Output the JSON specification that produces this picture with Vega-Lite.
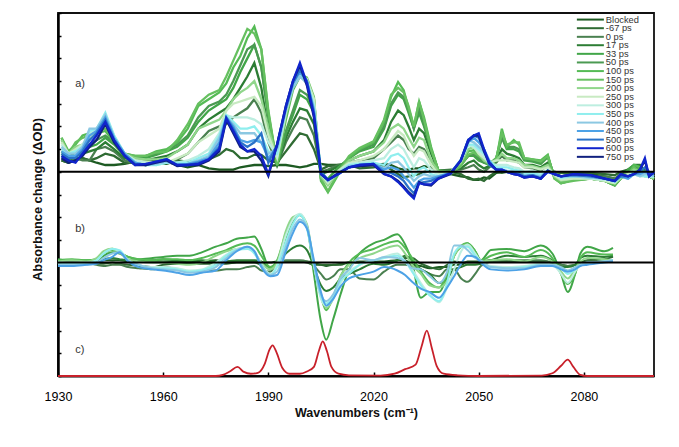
{
"$schema":"https://vega.github.io/schema/vega-lite/v6.json",
"width":596,"height":363,
"autosize":"none",
"padding":{"left":58,"top":13,"right":25,"bottom":71},
"background":"white",
"config":{"view":{"stroke":"#111","strokeWidth":1.8},"font":"Liberation Sans"},
"datasets":{
"a":[
{"w":1931,"B":9.5,"-67":9.5,"0":9.6,"17":9.7,"33":9.8,"50":9.9,"100":10.5,"150":10.5,"200":10.4,"250":10.3,"300":10.2,"350":10,"400":10.1,"450":9.9,"500":9.8,"600":9.7,"750":9.6},
{"w":1933,"B":9.4,"-67":9.4,"0":9.5,"17":9.5,"33":9.5,"50":9.6,"100":9.9,"150":9.8,"200":9.8,"250":9.8,"300":9.8,"350":9.8,"400":9.8,"450":9.7,"500":9.6,"600":9.5,"750":9.4},
{"w":1935,"B":9.6,"-67":9.5,"0":9.6,"17":9.7,"33":9.9,"50":10,"100":10.2,"150":10.3,"200":10.1,"250":10,"300":9.9,"350":9.9,"400":9.8,"450":9.7,"500":9.6,"600":9.4,"750":9.5},
{"w":1937,"B":9.6,"-67":9.6,"0":9.5,"17":9.8,"33":10,"50":10.1,"100":10.6,"150":10.5,"200":10.2,"250":10.2,"300":10.2,"350":10.1,"400":10.1,"450":10,"500":9.9,"600":9.8,"750":9.7},
{"w":1939,"B":9.5,"-67":9.5,"0":9.5,"17":9.9,"33":10.1,"50":10.2,"100":10.7,"150":10.6,"200":10.4,"250":10.5,"300":10.7,"350":10.8,"400":10.9,"450":10.6,"500":10.4,"600":10.2,"750":10.1},
{"w":1941,"B":9.4,"-67":9.6,"0":10,"17":10,"33":10.2,"50":10.4,"100":10.7,"150":10.8,"200":10.9,"250":10.9,"300":10.9,"350":10.9,"400":10.9,"450":10.8,"500":10.7,"600":10.6,"750":10.4},
{"w":1943.5,"B":9.3,"-67":9.8,"0":10.1,"17":10.3,"33":10.5,"50":10.6,"100":10.8,"150":10.9,"200":11.1,"250":11.2,"300":11.5,"350":11.6,"400":11.5,"450":11.4,"500":11.3,"600":11.2,"750":11.1},
{"w":1946,"B":9.3,"-67":9.7,"0":9.9,"17":10,"33":10.2,"50":10.3,"100":10.3,"150":10.4,"200":10.4,"250":10.5,"300":10.6,"350":10.6,"400":10.5,"450":10.5,"500":10.4,"600":10.4,"750":10.3},
{"w":1949,"B":9.35,"-67":9.4,"0":9.5,"17":9.6,"33":9.7,"50":9.8,"100":9.8,"150":9.8,"200":9.8,"250":9.8,"300":9.8,"350":9.8,"400":9.8,"450":9.8,"500":9.75,"600":9.7,"750":9.7},
{"w":1952,"B":9.45,"-67":9.4,"0":9.35,"17":9.5,"33":9.6,"50":9.65,"100":9.7,"150":9.7,"200":9.6,"250":9.5,"300":9.5,"350":9.4,"400":9.4,"450":9.4,"500":9.35,"600":9.3,"750":9.3},
{"w":1955,"B":9.4,"-67":9.3,"0":9.3,"17":9.5,"33":9.6,"50":9.7,"100":9.7,"150":9.7,"200":9.55,"250":9.45,"300":9.4,"350":9.3,"400":9.3,"450":9.3,"500":9.3,"600":9.35,"750":9.3},
{"w":1958,"B":9.5,"-67":9.35,"0":9.35,"17":9.6,"33":9.75,"50":9.8,"100":9.9,"150":9.85,"200":9.55,"250":9.4,"300":9.3,"350":9.3,"400":9.35,"450":9.4,"500":9.45,"600":9.45,"750":9.4},
{"w":1961,"B":9.45,"-67":9.35,"0":9.4,"17":9.7,"33":9.9,"50":9.95,"100":10,"150":9.9,"200":9.6,"250":9.4,"300":9.4,"350":9.4,"400":9.45,"450":9.5,"500":9.55,"600":9.55,"750":9.5},
{"w":1964,"B":9.3,"-67":9.5,"0":9.55,"17":9.9,"33":10.1,"50":10.2,"100":10.3,"150":10.4,"200":9.9,"250":9.6,"300":9.4,"350":9.4,"400":9.3,"450":9.3,"500":9.3,"600":9.3,"750":9.25},
{"w":1967,"B":9.2,"-67":9.45,"0":9.8,"17":10.2,"33":10.5,"50":10.6,"100":10.9,"150":11.1,"200":10.2,"250":9.8,"300":9.5,"350":9.4,"400":9.35,"450":9.35,"500":9.3,"600":9.3,"750":9.3},
{"w":1970,"B":9.3,"-67":9.45,"0":10.3,"17":10.9,"33":11.2,"50":11.4,"100":11.9,"150":12,"200":10.9,"250":10.3,"300":9.7,"350":9.6,"400":9.5,"450":9.45,"500":9.4,"600":9.35,"750":9.3},
{"w":1973,"B":9.15,"-67":9.55,"0":10.8,"17":11.3,"33":11.7,"50":11.9,"100":12.2,"150":12.4,"200":11.1,"250":10.6,"300":10,"350":9.8,"400":9.7,"450":9.6,"500":9.55,"600":9.55,"750":9.5},
{"w":1976,"B":9.1,"-67":9.75,"0":11,"17":11.6,"33":12,"50":12.1,"100":12.5,"150":12.6,"200":11.3,"250":10.9,"300":10.7,"350":10.6,"400":10.5,"450":10.3,"500":10.1,"600":10,"750":9.9},
{"w":1978,"B":9.1,"-67":10,"0":11.1,"17":11.8,"33":12.2,"50":12.4,"100":12.9,"150":13.2,"200":11.7,"250":11.7,"300":11.5,"350":11.5,"400":11.4,"450":11.4,"500":11.4,"600":11.35,"750":11.3},
{"w":1980,"B":9.1,"-67":9.9,"0":11.4,"17":12.2,"33":12.7,"50":13,"100":13.6,"150":13.9,"200":12.2,"250":12,"300":11.4,"350":11.2,"400":11.1,"450":11,"500":10.9,"600":10.8,"750":10.7},
{"w":1982,"B":9.2,"-67":9.6,"0":11.6,"17":12.7,"33":13.4,"50":13.7,"100":14.1,"150":14.6,"200":12.5,"250":12.1,"300":11.4,"350":10.9,"400":10.7,"450":10.4,"500":10.3,"600":10.2,"750":10.1},
{"w":1984,"B":9.25,"-67":9.6,"0":11.8,"17":13.2,"33":14,"50":14.4,"100":14.9,"150":15.3,"200":12.7,"250":12.2,"300":11.4,"350":10.9,"400":10.7,"450":10.3,"500":10.1,"600":9.9,"750":9.9},
{"w":1986,"B":9.3,"-67":9.75,"0":12.2,"17":13.8,"33":14.6,"50":14.6,"100":15.4,"150":15.1,"200":13,"250":12.3,"300":11.3,"350":11,"400":10.7,"450":10.4,"500":10.3,"600":10,"750":9.9},
{"w":1988,"B":9.3,"-67":9.75,"0":11.6,"17":12.7,"33":13.6,"50":13.6,"100":14.4,"150":14.4,"200":12.2,"250":11.9,"300":11.1,"350":10.6,"400":10.3,"450":10.3,"500":10.7,"600":9.7,"750":9.5},
{"w":1990,"B":9.25,"-67":9.5,"0":10.3,"17":10.8,"33":11.4,"50":11.5,"100":11.6,"150":11.7,"200":10.9,"250":10.6,"300":10.3,"350":9.9,"400":9.8,"450":9.6,"500":9.4,"600":8.9,"750":8.82},
{"w":1992.5,"B":9.3,"-67":9.4,"0":9.3,"17":9.3,"33":9.3,"50":9.3,"100":9.3,"150":9.3,"200":9.6,"250":9.6,"300":9.7,"350":9.8,"400":10,"450":10.1,"500":10.2,"600":10.2,"750":10.2},
{"w":1995,"B":9.3,"-67":9.9,"0":10.3,"17":10.5,"33":10.7,"50":10.8,"100":11.3,"150":11.6,"200":11.5,"250":11.6,"300":11.7,"350":11.8,"400":11.7,"450":11.8,"500":11.8,"600":11.9,"750":11.9},
{"w":1997,"B":9.25,"-67":10.3,"0":10.9,"17":11.2,"33":11.5,"50":11.7,"100":12.6,"150":12.9,"200":12.7,"250":12.8,"300":12.8,"350":12.9,"400":12.7,"450":12.9,"500":12.9,"600":13,"750":13},
{"w":1999,"B":9.2,"-67":10.7,"0":11.4,"17":11.8,"33":12.4,"50":12.6,"100":13.2,"150":13.3,"200":13.2,"250":13.2,"300":13.2,"350":13.3,"400":13.2,"450":13.4,"500":13.5,"600":13.8,"750":13.7},
{"w":2001,"B":9.25,"-67":10.6,"0":11.3,"17":11.7,"33":12.2,"50":12.4,"100":13,"150":13.15,"200":13,"250":13.1,"300":13,"350":13,"400":12.9,"450":13,"500":13,"600":12.9,"750":12.8},
{"w":2003,"B":9.35,"-67":10,"0":10.6,"17":11.1,"33":11.6,"50":11.8,"100":12.2,"150":12.3,"200":12.2,"250":12.2,"300":12,"350":11.9,"400":11.8,"450":11.7,"500":11.6,"600":11.5,"750":11.4},
{"w":2005,"B":9.35,"-67":9.1,"0":9,"17":8.9,"33":8.8,"50":8.7,"100":8.6,"150":8.7,"200":8.8,"250":8.9,"300":8.9,"350":8.9,"400":9,"450":9,"500":9,"600":8.9,"750":8.9},
{"w":2007,"B":9.3,"-67":9.25,"0":9.1,"17":9,"33":8.7,"50":8.5,"100":8.1,"150":8.15,"200":8.4,"250":8.5,"300":8.6,"350":8.6,"400":8.6,"450":8.65,"500":8.65,"600":8.64,"750":8.64},
{"w":2010,"B":9.3,"-67":9.3,"0":9.3,"17":9.25,"33":9.2,"50":9.1,"100":8.9,"150":9,"200":9,"250":9.05,"300":9,"350":8.95,"400":8.95,"450":8.9,"500":8.9,"600":8.9,"750":8.95},
{"w":2013,"B":9.3,"-67":9.3,"0":9.4,"17":9.5,"33":9.6,"50":9.6,"100":9.6,"150":9.7,"200":9.5,"250":9.4,"300":9.35,"350":9.3,"400":9.25,"450":9.2,"500":9.2,"600":9.2,"750":9.2},
{"w":2016,"B":9.25,"-67":9.15,"0":9.5,"17":9.7,"33":9.9,"50":9.95,"100":10,"150":10.05,"200":9.7,"250":9.5,"300":9.4,"350":9.35,"400":9.3,"450":9.3,"500":9.3,"600":9.3,"750":9.25},
{"w":2020,"B":9.3,"-67":9.2,"0":9.6,"17":9.9,"33":10.1,"50":10.2,"100":10.3,"150":10.35,"200":9.9,"250":9.7,"300":9.5,"350":9.4,"400":9.35,"450":9.35,"500":9.35,"600":9.35,"750":9.3},
{"w":2023,"B":9.35,"-67":9.3,"0":10,"17":10.4,"33":10.9,"50":11,"100":11.2,"150":11.3,"200":10.3,"250":10,"300":9.6,"350":9.3,"400":9.15,"450":9.1,"500":9,"600":8.9,"750":8.9},
{"w":2025,"B":9.3,"-67":9.1,"0":10.3,"17":11.2,"33":11.9,"50":12,"100":12.3,"150":12.4,"200":10.9,"250":10.4,"300":10,"350":9.7,"400":9.4,"450":9.2,"500":8.95,"600":8.8,"750":8.8},
{"w":2027,"B":9.15,"-67":8.9,"0":10.6,"17":11.7,"33":12.4,"50":12.5,"100":12.96,"150":12.7,"200":11.1,"250":10.8,"300":10.2,"350":9.8,"400":9.45,"450":9.1,"500":8.8,"600":8.55,"750":8.6},
{"w":2028.6,"B":9.1,"-67":8.75,"0":10.4,"17":11.5,"33":12.2,"50":12.3,"100":12.6,"150":12.5,"200":10.9,"250":10.6,"300":10,"350":9.6,"400":9.2,"450":8.8,"500":8.6,"600":8.3,"750":8.35},
{"w":2030,"B":9.1,"-67":8.8,"0":10,"17":11,"33":11.6,"50":11.7,"100":11.8,"150":11.9,"200":10.5,"250":10.1,"300":9.6,"350":9.2,"400":8.9,"450":8.6,"500":8.3,"600":8.05,"750":8.1},
{"w":2031.5,"B":9.15,"-67":8.85,"0":9.8,"17":10.4,"33":10.9,"50":10.9,"100":11,"150":11,"200":10.1,"250":9.7,"300":9.2,"350":8.8,"400":8.6,"450":8.3,"500":8.05,"600":7.83,"750":7.9},
{"w":2033,"B":9.15,"-67":8.9,"0":10.1,"17":10.9,"33":11.6,"50":11.8,"100":12.1,"150":12.1,"200":10.5,"250":10,"300":9.6,"350":9.1,"400":8.8,"450":8.6,"500":8.5,"600":8.5,"750":8.55},
{"w":2034.4,"B":9.25,"-67":9,"0":10,"17":10.7,"33":11,"50":11.1,"100":11.4,"150":11.3,"200":10.4,"250":9.9,"300":9.5,"350":9.2,"400":8.9,"450":8.7,"500":8.55,"600":8.45,"750":8.45},
{"w":2036.4,"B":9.2,"-67":9.05,"0":9.5,"17":9.8,"33":10,"50":10,"100":10.1,"150":10,"200":9.5,"250":9.3,"300":9.1,"350":8.9,"400":8.8,"450":8.7,"500":8.6,"600":8.45,"750":8.4},
{"w":2038.5,"B":9.05,"-67":9,"0":9.05,"17":9.05,"33":9.05,"50":9.05,"100":9.05,"150":9.05,"200":9,"250":8.9,"300":8.85,"350":8.8,"400":8.8,"450":8.8,"500":8.75,"600":8.7,"750":8.7},
{"w":2042,"B":8.9,"-67":9,"0":9.1,"17":9.05,"33":9,"50":9,"100":8.95,"150":8.95,"200":9,"250":8.95,"300":8.95,"350":8.9,"400":8.95,"450":8.95,"500":8.95,"600":8.95,"750":8.9},
{"w":2044.9,"B":8.8,"-67":8.9,"0":9.1,"17":9.15,"33":9.3,"50":9.3,"100":9.3,"150":9.25,"200":9.4,"250":9.5,"300":9.5,"350":9.5,"400":9.55,"450":9.5,"500":9.5,"600":9.5,"750":9.5},
{"w":2047,"B":8.75,"-67":8.7,"0":9.2,"17":9.4,"33":9.7,"50":9.7,"100":9.9,"150":9.75,"200":10,"250":10.2,"300":10.2,"350":10.2,"400":10.4,"450":10.3,"500":10.4,"600":10.4,"750":10.35},
{"w":2048.6,"B":8.65,"-67":8.65,"0":9.3,"17":9.5,"33":9.7,"50":9.8,"100":9.95,"150":9.85,"200":10.1,"250":10.1,"300":10.1,"350":10.2,"400":10.3,"450":10.5,"500":10.6,"600":10.6,"750":10.6},
{"w":2050,"B":8.65,"-67":8.7,"0":9.1,"17":9.3,"33":9.5,"50":9.6,"100":9.75,"150":9.7,"200":9.8,"250":9.8,"300":9.9,"350":10,"400":10.1,"450":10.3,"500":10.5,"600":10.7,"750":10.6},
{"w":2051.5,"B":8.75,"-67":8.6,"0":9,"17":9.15,"33":9.4,"50":9.4,"100":9.6,"150":9.5,"200":9.5,"250":9.6,"300":9.7,"350":9.8,"400":9.9,"450":10,"500":10,"600":10,"750":9.9},
{"w":2053,"B":8.7,"-67":8.8,"0":9.2,"17":9.25,"33":9.3,"50":9.35,"100":9.3,"150":9.3,"200":9.4,"250":9.4,"300":9.4,"350":9.5,"400":9.4,"450":9.5,"500":9.3,"600":9.4,"750":9.4},
{"w":2055,"B":8.95,"-67":9,"0":9.4,"17":9.5,"33":9.6,"50":9.6,"100":9.5,"150":9.6,"200":9.5,"250":9.5,"300":9.3,"350":9.2,"400":9.1,"450":9.05,"500":9.1,"600":9.1,"750":9.1},
{"w":2056.6,"B":9,"-67":8.95,"0":9.7,"17":10,"33":10.5,"50":10.5,"100":10.9,"150":10.7,"200":9.8,"250":9.5,"300":9.3,"350":9.2,"400":9.1,"450":9.1,"500":9.1,"600":9.1,"750":9.05},
{"w":2058,"B":9,"-67":9,"0":9.5,"17":9.8,"33":10,"50":10.1,"100":10.1,"150":10.2,"200":9.6,"250":9.5,"300":9.3,"350":9.2,"400":9.05,"450":9,"500":9,"600":9,"750":9},
{"w":2060,"B":9,"-67":9,"0":9.5,"17":9.7,"33":10,"50":10.1,"100":10.4,"150":10.3,"200":9.6,"250":9.45,"300":9.2,"350":9.1,"400":9,"450":8.95,"500":8.95,"600":8.9,"750":8.9},
{"w":2061.5,"B":9,"-67":8.95,"0":9.4,"17":9.6,"33":9.9,"50":10,"100":10.2,"150":10.3,"200":9.5,"250":9.4,"300":9.15,"350":9.05,"400":8.9,"450":8.9,"500":8.9,"600":8.85,"750":8.85},
{"w":2063,"B":8.95,"-67":8.9,"0":9.2,"17":9.3,"33":9.5,"50":9.55,"100":9.6,"150":9.6,"200":9.3,"250":9.2,"300":9,"350":8.95,"400":8.85,"450":8.8,"500":8.8,"600":8.75,"750":8.75},
{"w":2065.4,"B":9,"-67":8.95,"0":9.15,"17":9.3,"33":9.45,"50":9.5,"100":9.55,"150":9.55,"200":9.25,"250":9.2,"300":9.05,"350":8.95,"400":8.85,"450":8.85,"500":8.85,"600":8.8,"750":8.8},
{"w":2067.7,"B":8.9,"-67":8.9,"0":9.05,"17":9.2,"33":9.35,"50":9.4,"100":9.5,"150":9.45,"200":9.15,"250":9.1,"300":8.9,"350":8.85,"400":8.8,"450":8.75,"500":8.7,"600":8.7,"750":8.7},
{"w":2069.7,"B":9,"-67":9.05,"0":9.3,"17":9.4,"33":9.65,"50":9.7,"100":9.75,"150":9.7,"200":9.3,"250":9.2,"300":9.1,"350":9.05,"400":9.05,"450":9,"500":9.05,"600":9,"750":9.05},
{"w":2071.6,"B":9,"-67":9,"0":8.95,"17":8.9,"33":8.8,"50":8.75,"100":8.7,"150":8.7,"200":8.8,"250":8.85,"300":8.9,"350":8.9,"400":8.9,"450":8.9,"500":8.9,"600":8.9,"750":8.9},
{"w":2073.5,"B":8.95,"-67":8.95,"0":8.8,"17":8.7,"33":8.55,"50":8.5,"100":8.5,"150":8.5,"200":8.6,"250":8.65,"300":8.7,"350":8.75,"400":8.8,"450":8.8,"500":8.8,"600":8.8,"750":8.8},
{"w":2077,"B":8.9,"-67":8.95,"0":8.8,"17":8.7,"33":8.65,"50":8.65,"100":8.65,"150":8.6,"200":8.7,"250":8.7,"300":8.8,"350":8.8,"400":8.8,"450":8.85,"500":8.85,"600":8.9,"750":8.9},
{"w":2082,"B":8.9,"-67":8.95,"0":8.8,"17":8.75,"33":8.7,"50":8.7,"100":8.7,"150":8.7,"200":8.7,"250":8.7,"300":8.7,"350":8.75,"400":8.75,"450":8.8,"500":8.8,"600":8.85,"750":8.85},
{"w":2086,"B":8.8,"-67":8.9,"0":8.8,"17":8.7,"33":8.6,"50":8.6,"100":8.6,"150":8.6,"200":8.6,"250":8.6,"300":8.65,"350":8.7,"400":8.7,"450":8.7,"500":8.7,"600":8.7,"750":8.7},
{"w":2088.8,"B":8.7,"-67":8.85,"0":8.7,"17":8.55,"33":8.4,"50":8.4,"100":8.4,"150":8.45,"200":8.5,"250":8.5,"300":8.55,"350":8.55,"400":8.6,"450":8.6,"500":8.6,"600":8.6,"750":8.6},
{"w":2090.5,"B":8.8,"-67":9,"0":8.9,"17":8.8,"33":8.7,"50":8.7,"100":8.75,"150":8.7,"200":8.7,"250":8.8,"300":8.8,"350":8.8,"400":8.8,"450":8.8,"500":8.8,"600":8.9,"750":8.9},
{"w":2092.6,"B":8.9,"-67":9.1,"0":9,"17":9.1,"33":9.1,"50":9,"100":8.8,"150":8.9,"200":8.9,"250":8.9,"300":8.7,"350":8.8,"400":8.8,"450":8.7,"500":8.8,"600":8.8,"750":8.8},
{"w":2094.3,"B":9,"-67":9.2,"0":9.2,"17":9.3,"33":9.3,"50":9.2,"100":9.3,"150":9.2,"200":9.1,"250":9,"300":8.9,"350":9,"400":8.9,"450":8.9,"500":8.9,"600":8.9,"750":8.9},
{"w":2096,"B":8.9,"-67":9.1,"0":9.2,"17":9.3,"33":9.2,"50":9.1,"100":9.2,"150":9,"200":9,"250":8.9,"300":8.8,"350":8.9,"400":8.8,"450":8.9,"500":9,"600":9.1,"750":9.1},
{"w":2097.4,"B":8.9,"-67":9,"0":9.1,"17":9,"33":8.9,"50":8.9,"100":8.9,"150":8.9,"200":8.8,"250":8.9,"300":8.8,"350":8.8,"400":8.9,"450":9,"500":9.2,"600":9.6,"750":9.5},
{"w":2098.6,"B":8.8,"-67":8.9,"0":8.9,"17":8.8,"33":8.8,"50":8.8,"100":8.8,"150":8.8,"200":8.8,"250":8.8,"300":8.8,"350":8.8,"400":8.9,"450":8.9,"500":9,"600":8.8,"750":8.8},
{"w":2100,"B":8.7,"-67":8.8,"0":8.8,"17":8.7,"33":8.7,"50":8.7,"100":8.7,"150":8.7,"200":8.7,"250":8.8,"300":8.8,"350":8.8,"400":8.8,"450":8.9,"500":8.9,"600":9,"750":9}
],
"b":[
{"w":1930,"B":4.95,"-67":5.05,"0":5,"17":5.05,"33":5.15,"100":5.1,"200":5.05,"300":5,"350":5,"400":4.9,"450":4.85},
{"w":1934,"B":5.1,"-67":5.05,"0":5,"17":5.1,"33":5.1,"100":5.15,"200":5.1,"300":5,"350":4.95,"400":4.9,"450":4.85},
{"w":1938,"B":5.05,"-67":5,"0":5,"17":5.05,"33":5.1,"100":5.1,"200":5.05,"300":5,"350":4.95,"400":4.9,"450":4.9},
{"w":1941,"B":5,"-67":4.95,"0":4.9,"17":5.1,"33":5.1,"100":5.15,"200":5.2,"300":5.1,"350":5.1,"400":5,"450":4.95},
{"w":1943,"B":5.1,"-67":4.95,"0":4.85,"17":5.15,"33":5.3,"100":5.4,"200":5.5,"300":5.4,"350":5.4,"400":5.2,"450":5.1},
{"w":1945.5,"B":5.1,"-67":5,"0":4.9,"17":5.2,"33":5.45,"100":5.55,"200":5.62,"300":5.6,"350":5.6,"400":5.4,"450":5.25},
{"w":1947.5,"B":5.1,"-67":4.95,"0":4.9,"17":5.15,"33":5.4,"100":5.45,"200":5.45,"300":5.5,"350":5.55,"400":5.45,"450":5.45},
{"w":1950,"B":5.05,"-67":4.9,"0":4.8,"17":5.1,"33":5.25,"100":5.25,"200":5.15,"300":5.1,"350":5.1,"400":5.1,"450":5.05},
{"w":1953,"B":5.05,"-67":4.85,"0":4.75,"17":5.1,"33":5.15,"100":5.15,"200":5.05,"300":4.9,"350":4.9,"400":4.9,"450":4.8},
{"w":1957,"B":5.05,"-67":4.8,"0":4.7,"17":5.1,"33":5.2,"100":5.1,"200":5,"300":4.8,"350":4.75,"400":4.75,"450":4.7},
{"w":1960,"B":5.05,"-67":4.9,"0":4.8,"17":5.15,"33":5.25,"100":5.15,"200":5,"300":4.8,"350":4.75,"400":4.7,"450":4.65},
{"w":1964,"B":5.05,"-67":4.95,"0":4.7,"17":5.1,"33":5.3,"100":5.15,"200":4.95,"300":4.75,"350":4.7,"400":4.65,"450":4.55},
{"w":1967.5,"B":5.05,"-67":4.95,"0":4.6,"17":5.1,"33":5.3,"100":5.1,"200":4.9,"300":4.65,"350":4.6,"400":4.55,"450":4.45},
{"w":1971,"B":5.05,"-67":4.95,"0":4.65,"17":5.1,"33":5.45,"100":5.2,"200":5,"300":4.7,"350":4.65,"400":4.6,"450":4.55},
{"w":1975,"B":5.1,"-67":4.95,"0":4.65,"17":5.05,"33":5.7,"100":5.4,"200":5.3,"300":5,"350":4.9,"400":4.8,"450":4.65},
{"w":1978,"B":5.05,"-67":4.95,"0":4.7,"17":5.05,"33":5.85,"100":5.55,"200":5.5,"300":5.35,"350":5.3,"400":5.2,"450":5.1},
{"w":1981,"B":5.05,"-67":5,"0":4.7,"17":5.1,"33":6.05,"100":5.75,"200":5.6,"300":5.6,"350":5.55,"400":5.55,"450":5.5},
{"w":1984,"B":5.05,"-67":5,"0":4.8,"17":5.1,"33":6.1,"100":5.85,"200":5.65,"300":5.65,"350":5.6,"400":5.7,"450":5.7},
{"w":1986,"B":5.05,"-67":5,"0":4.85,"17":5.1,"33":6.15,"100":5.75,"200":5.45,"300":5.45,"350":5.4,"400":5.5,"450":5.5},
{"w":1988,"B":5,"-67":4.9,"0":4.65,"17":5.05,"33":5.6,"100":5.3,"200":5,"300":4.95,"350":4.9,"400":4.9,"450":4.8},
{"w":1990.5,"B":5,"-67":4.8,"0":4.6,"17":4.7,"33":4.7,"100":4.8,"200":4.7,"300":4.5,"350":4.45,"400":4.45,"450":4.4},
{"w":1992.5,"B":5.05,"-67":4.95,"0":4.85,"17":5,"33":5.05,"100":5.1,"200":5,"300":4.9,"350":4.8,"400":4.6,"450":4.45},
{"w":1995,"B":5.05,"-67":5.05,"0":5.1,"17":5.4,"33":6.1,"100":6.3,"200":6.4,"300":6.2,"350":5.9,"400":5.7,"450":5.5},
{"w":1997,"B":5.05,"-67":5.05,"0":5.1,"17":5.65,"33":6.8,"100":6.9,"200":7,"300":6.9,"350":6.7,"400":6.5,"450":6.3},
{"w":1999,"B":5.05,"-67":5.05,"0":5.1,"17":5.75,"33":7.1,"100":7.1,"200":7.1,"300":7.15,"350":7.1,"400":6.9,"450":6.8},
{"w":2001,"B":5,"-67":5.05,"0":5.05,"17":5.55,"33":6.6,"100":6.6,"200":6.7,"300":6.6,"350":6.5,"400":6.6,"450":6.5},
{"w":2003,"B":4.9,"-67":5,"0":4.85,"17":4.8,"33":4.5,"100":4.8,"200":4.9,"300":4.9,"350":4.9,"400":4.9,"450":5.1},
{"w":2005,"B":4.9,"-67":4.9,"0":4.5,"17":4,"33":2.4,"100":3.5,"200":3.5,"300":3.4,"350":3.5,"400":3.6,"450":3.7},
{"w":2006.5,"B":4.85,"-67":4.9,"0":4.25,"17":3.75,"33":1.6,"100":2.9,"200":3,"300":3.1,"350":3.2,"400":3.3,"450":3.1},
{"w":2008.5,"B":4.9,"-67":4.9,"0":4.4,"17":3.9,"33":2.5,"100":3.5,"200":3.4,"300":3.4,"350":3.5,"400":3.6,"450":3.4},
{"w":2010.6,"B":4.9,"-67":4.95,"0":4.7,"17":4.3,"33":3.6,"100":4.4,"200":4.4,"300":4.1,"350":4.2,"400":4.3,"450":3.95},
{"w":2013,"B":5,"-67":5,"0":4.7,"17":4.5,"33":4.7,"100":5,"200":4.9,"300":4.6,"350":4.5,"400":4.7,"450":4.3},
{"w":2016,"B":5,"-67":5.05,"0":4.3,"17":4.7,"33":5.4,"100":5.4,"200":5.2,"300":4.9,"350":4.9,"400":5.2,"450":4.45},
{"w":2020,"B":5.05,"-67":5.05,"0":4.25,"17":4.95,"33":5.85,"100":5.6,"200":5.4,"300":5.1,"350":5.1,"400":5.1,"450":4.6},
{"w":2023,"B":5.05,"-67":5,"0":4.6,"17":4.9,"33":6,"100":5.8,"200":5.6,"300":5.25,"350":5.2,"400":5.25,"450":4.8},
{"w":2026.8,"B":5.1,"-67":5.1,"0":4.9,"17":5.1,"33":6.25,"100":5.95,"200":5.75,"300":5.4,"350":5.3,"400":5.2,"450":4.65},
{"w":2029,"B":5.1,"-67":5.2,"0":4.9,"17":5.3,"33":5.8,"100":5.65,"200":5.4,"300":5.05,"350":5.05,"400":5.05,"450":4.45},
{"w":2031,"B":4.9,"-67":5.2,"0":4.85,"17":5.1,"33":5,"100":5.2,"200":4.9,"300":4.7,"350":4.6,"400":4.75,"450":4.15},
{"w":2033.5,"B":4.85,"-67":4.95,"0":4.7,"17":4.7,"33":3.45,"100":4.6,"200":4.5,"300":4.1,"350":4,"400":4.7,"450":3.85},
{"w":2036,"B":4.75,"-67":4.8,"0":4.5,"17":4.5,"33":3.7,"100":4.1,"200":4,"300":3.6,"350":3.55,"400":4.4,"450":3.7},
{"w":2038.7,"B":4.8,"-67":4.7,"0":4.4,"17":4.1,"33":3.7,"100":3.9,"200":3.9,"300":3.25,"350":3.3,"400":4.1,"450":3.45},
{"w":2041,"B":4.8,"-67":4.9,"0":4.7,"17":4.3,"33":4.4,"100":4.5,"200":4.2,"300":3.9,"350":4.1,"400":4.6,"450":3.9},
{"w":2043,"B":4.9,"-67":5.05,"0":4.7,"17":4.7,"33":5.3,"100":5.3,"200":5.3,"300":4.7,"350":5.4,"400":5.75,"450":4.4},
{"w":2045,"B":4.9,"-67":5,"0":4.3,"17":4.8,"33":5.7,"100":5.75,"200":5.7,"300":5.5,"350":5.7,"400":5.75,"450":4.95},
{"w":2046.8,"B":5.05,"-67":5,"0":4.15,"17":4.9,"33":5.85,"100":5.85,"200":5.8,"300":5.8,"350":5.7,"400":5.55,"450":5.3},
{"w":2049,"B":5.05,"-67":5,"0":4.5,"17":4.9,"33":5.5,"100":5.5,"200":5.4,"300":5.4,"350":5.3,"400":5.2,"450":5.25},
{"w":2050.6,"B":5.05,"-67":5,"0":4.85,"17":4.95,"33":5.1,"100":5.1,"200":5.05,"300":5.05,"350":5.05,"400":5.1,"450":5},
{"w":2053.5,"B":5.1,"-67":5.1,"0":5.05,"17":5.1,"33":5.55,"100":5.3,"200":5.1,"300":4.85,"350":4.8,"400":4.8,"450":4.7},
{"w":2058,"B":5.05,"-67":5.1,"0":5.1,"17":5.3,"33":5.6,"100":5.45,"200":5.15,"300":4.8,"350":4.75,"400":4.75,"450":4.65},
{"w":2063,"B":5.05,"-67":5.05,"0":5.1,"17":5.25,"33":5.5,"100":5.25,"200":5.05,"300":4.85,"350":4.8,"400":4.75,"450":4.7},
{"w":2067.7,"B":5.05,"-67":5.05,"0":5.1,"17":5.3,"33":5.75,"100":5.55,"200":5.25,"300":4.95,"350":4.9,"400":4.9,"450":4.85},
{"w":2071,"B":5,"-67":5,"0":5,"17":5.1,"33":5.4,"100":5.2,"200":5.05,"300":4.9,"350":4.9,"400":4.9,"450":4.85},
{"w":2073.5,"B":4.9,"-67":4.9,"0":4.9,"17":4.8,"33":4.5,"100":4.5,"200":4.6,"300":4.5,"350":4.75,"400":4.8,"450":4.7},
{"w":2075.4,"B":4.85,"-67":4.85,"0":4.85,"17":4.8,"33":3.7,"100":4.05,"200":4.3,"300":4.1,"350":4.5,"400":4.65,"450":4.6},
{"w":2077.5,"B":4.9,"-67":4.9,"0":4.9,"17":4.9,"33":4.5,"100":4.5,"200":4.7,"300":4.6,"350":4.7,"400":4.8,"450":4.7},
{"w":2079,"B":5,"-67":5,"0":4.95,"17":5.2,"33":5.4,"100":5.2,"200":5.05,"300":4.9,"350":4.9,"400":4.9,"450":4.85},
{"w":2081,"B":5.05,"-67":5.1,"0":5.05,"17":5.3,"33":5.7,"100":5.45,"200":5.2,"300":5,"350":5,"400":5,"450":4.9},
{"w":2085.8,"B":5.05,"-67":5.15,"0":5.05,"17":5.25,"33":5.5,"100":5.35,"200":5.15,"300":5.05,"350":5.05,"400":5.05,"450":5},
{"w":2088.3,"B":5.05,"-67":5.25,"0":5.05,"17":5.3,"33":5.65,"100":5.35,"200":5.1,"300":5.1,"350":5.1,"400":5.1,"450":5.05}
],
"c":[
{"w":1930,"v":0},{"w":1975,"v":0},{"w":1977,"v":0.05},{"w":1979,"v":0.2},{"w":1981.2,"v":0.4},{"w":1983,"v":0.18},{"w":1985,"v":0.1},{"w":1987,"v":0.14},{"w":1989,"v":0.55},{"w":1990.3,"v":1.15},{"w":1991.2,"v":1.35},{"w":1992.3,"v":1.05},{"w":1994,"v":0.35},{"w":1996,"v":0.1},{"w":1999,"v":0.1},{"w":2001,"v":0.2},{"w":2003,"v":0.4},{"w":2004.4,"v":1.1},{"w":2005.5,"v":1.53},{"w":2006.7,"v":1.1},{"w":2008,"v":0.4},{"w":2010,"v":0.1},{"w":2013,"v":0.03},{"w":2022,"v":0.02},{"w":2026,"v":0.1},{"w":2029,"v":0.3},{"w":2032,"v":0.5},{"w":2033.7,"v":1.3},{"w":2035.2,"v":2},{"w":2036.6,"v":1.25},{"w":2038,"v":0.45},{"w":2040,"v":0.1},{"w":2044,"v":0.03},{"w":2050,"v":0},{"w":2068,"v":0.02},{"w":2071,"v":0.12},{"w":2073.5,"v":0.45},{"w":2075.4,"v":0.72},{"w":2077,"v":0.4},{"w":2079,"v":0.05},{"w":2081,"v":0},{"w":2100,"v":0}
],
"zero":[{"v":9},{"v":5}],
"tags":[{"w":1934.9,"v":12.88,"t":"a)"},{"w":1934.9,"v":6.46,"t":"b)"},{"w":1934.9,"v":1.14,"t":"c)"}],
"key":[
{"w":2078,"w2":2085.7,"v":15.71,"series":"B","label":"Blocked"},
{"w":2078,"w2":2085.7,"v":15.33,"series":"-67","label":"-67 ps"},
{"w":2078,"w2":2085.7,"v":14.95,"series":"0","label":"0 ps"},
{"w":2078,"w2":2085.7,"v":14.58,"series":"17","label":"17 ps"},
{"w":2078,"w2":2085.7,"v":14.2,"series":"33","label":"33 ps"},
{"w":2078,"w2":2085.7,"v":13.82,"series":"50","label":"50 ps"},
{"w":2078,"w2":2085.7,"v":13.44,"series":"100","label":"100 ps"},
{"w":2078,"w2":2085.7,"v":13.06,"series":"150","label":"150 ps"},
{"w":2078,"w2":2085.7,"v":12.69,"series":"200","label":"200 ps"},
{"w":2078,"w2":2085.7,"v":12.31,"series":"250","label":"250 ps"},
{"w":2078,"w2":2085.7,"v":11.93,"series":"300","label":"300 ps"},
{"w":2078,"w2":2085.7,"v":11.55,"series":"350","label":"350 ps"},
{"w":2078,"w2":2085.7,"v":11.17,"series":"400","label":"400 ps"},
{"w":2078,"w2":2085.7,"v":10.8,"series":"450","label":"450 ps"},
{"w":2078,"w2":2085.7,"v":10.42,"series":"500","label":"500 ps"},
{"w":2078,"w2":2085.7,"v":10.04,"series":"600","label":"600 ps"},
{"w":2078,"w2":2085.7,"v":9.66,"series":"750","label":"750 ps"}
]
},
"encoding":{
"x":{"field":"w","type":"quantitative","scale":{"domain":[1930,2100],"nice":false},
"axis":{"title":"Wavenumbers  (cm⁻¹)","titleFontSize":12.5,"titleFontWeight":"bold","titleColor":"#111","titlePadding":4,"values":[1930,1960,1990,2020,2050,2080],"format":"d","grid":false,"labelFontSize":12.5,"labelColor":"#000","labelPadding":18,"labelFlush":false,"labelFontWeight":"normal","tickSize":-4,"tickWidth":1.5,"tickColor":"#000","domainColor":"#000","domainWidth":2}},
"y":{"field":"v","type":"quantitative","scale":{"domain":[0,16],"nice":false},
"axis":{"title":"Absorbance change (ΔOD)","titleFontSize":12.8,"titleFontWeight":"bold","titleColor":"#111","titlePadding":13,"titleY":186,"values":[0,1,2,3,4,5,6,7,8,9,10,11,12,13,14,15,16],"labels":false,"grid":false,"tickSize":-3,"tickWidth":1.5,"tickColor":"#000","domainColor":"#000","domainWidth":2.5}}
},
"layer":[
{"data":{"name":"a"},
"transform":[{"fold":["B","-67","0","17","33","50","100","150","200","250","300","350","400","450","500","750","600"],"as":["series","v"]}],
"mark":{"type":"line","strokeWidth":2.3},
"encoding":{"color":{"field":"series","type":"nominal",
"scale":{"domain":["B","-67","0","17","33","50","100","150","200","250","300","350","400","450","500","600","750"],"range":["#1d5a22","#2f6b33","#4a8050","#2c7d34","#41a648","#4b9a52","#55bb55","#66c060","#90d68b","#c8eac2","#bdeee0","#8feeee","#8cc8e2","#4da2e6","#2a72c8","#1024cc","#10207f"]},
"legend":null}}},
{"data":{"name":"b"},
"transform":[{"fold":["B","-67","0","17","33","100","200","300","350","400","450"],"as":["series","v"]}],
"mark":{"type":"line","interpolate":"monotone","strokeWidth":2},
"encoding":{"color":{"field":"series","type":"nominal","legend":null}}},
{"data":{"name":"c"},"mark":{"type":"line","interpolate":"monotone","strokeWidth":1.8,"color":"#c8202a"}},
{"data":{"name":"zero"},"mark":{"type":"rule","color":"#000","strokeWidth":2},"encoding":{"x":{"value":0},"x2":{"value":596},"y":{"field":"v","type":"quantitative"}}},
{"data":{"name":"tags"},"mark":{"type":"text","align":"left","baseline":"middle","fontSize":11,"color":"#333"},"encoding":{"text":{"field":"t"}}},
{"data":{"name":"key"},"mark":{"type":"rule","strokeWidth":2},"encoding":{"x2":{"field":"w2"},"color":{"field":"series","type":"nominal","legend":null}}},
{"data":{"name":"key"},"mark":{"type":"text","align":"left","baseline":"middle","dx":2,"fontSize":9.3,"color":"#333"},"encoding":{"x":{"field":"w2","type":"quantitative"},"text":{"field":"label"}}}
]
}
